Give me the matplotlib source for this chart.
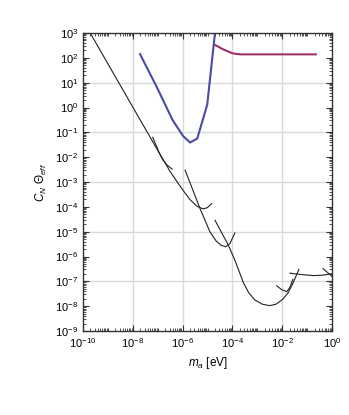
import numpy as np
import matplotlib
matplotlib.use("Agg")
import matplotlib.pyplot as plt
from matplotlib.ticker import LogLocator, NullFormatter

plt.rcParams['font.family'] = ['Liberation Sans', 'DejaVu Sans']
plt.rcParams['mathtext.fontset'] = 'custom'
plt.rcParams['mathtext.rm'] = 'Liberation Sans'
plt.rcParams['mathtext.it'] = 'Liberation Sans:italic'
plt.rcParams['mathtext.bf'] = 'Liberation Sans:bold'

# log10 values
blue_lx = [-7.71, -7.05, -6.40, -5.98, -5.70, -5.41, -5.01, -4.70]
blue_ly = [2.15, 0.85, -0.51, -1.15, -1.41, -1.25, 0.12, 3.0]

purple_lx = [-4.70, -4.37, -3.99, -3.69, -0.65]
purple_ly = [2.52, 2.34, 2.18, 2.14, 2.14]

main_lx = [-9.71, -8.57, -7.64, -6.91, -6.50, -6.20, -5.95, -5.70, -5.42, -5.18, -5.02, -4.83]
main_ly = [3.0, 1.01, -0.61, -1.88, -2.58, -3.02, -3.38, -3.71, -3.98, -4.08, -4.04, -3.87]

seg1_lx = [-7.20, -6.95, -6.80, -6.62, -6.42]
seg1_ly = [-1.20, -1.80, -2.10, -2.32, -2.48]

seg2_lx = [-5.90, -5.30, -4.90, -4.65, -4.45, -4.27, -4.10, -3.90]
seg2_ly = [-2.52, -4.07, -5.01, -5.38, -5.55, -5.61, -5.48, -5.05]

seg3_lx = [-4.70, -4.16, -3.90, -3.56, -3.35, -3.10, -2.80, -2.50, -2.25, -2.00, -1.76, -1.57, -1.33]
seg3_ly = [-4.54, -5.55, -6.15, -7.05, -7.45, -7.75, -7.92, -7.98, -7.92, -7.74, -7.46, -7.08, -6.52]

seg4_lx = [-2.22, -2.01, -1.82, -1.69, -1.57]
seg4_ly = [-7.18, -7.34, -7.42, -7.24, -6.92]

seg5_lx = [-1.69, -1.29, -0.75, -0.35, 0.0]
seg5_ly = [-6.67, -6.72, -6.77, -6.75, -6.69]

seg6_lx = [-0.36, -0.16, 0.04]
seg6_ly = [-6.49, -6.66, -6.84]

fig = plt.figure(figsize=(3.49, 4.15), dpi=100)
ax = fig.add_axes([83/349, 1-331/415, (332-83)/349, (331-33)/415])

ax.set_xscale('log')
ax.set_yscale('log')
ax.set_xlim(1e-10, 1)
ax.set_ylim(1e-9, 1e3)

for k in [-8, -6, -4, -2]:
    ax.axvline(10.0**k, color='#d9d9d9', lw=1.0, zorder=0)
for k in [1, -1, -3, -5, -7]:
    ax.axhline(10.0**k, color='#d9d9d9', lw=1.0, zorder=0)

def P(lx, ly):
    return 10.0**np.array(lx), 10.0**np.array(ly)

blk = dict(color='#222222', lw=0.8)
for lx, ly in [(main_lx, main_ly), (seg1_lx, seg1_ly), (seg2_lx, seg2_ly),
               (seg3_lx, seg3_ly), (seg4_lx, seg4_ly), (seg5_lx, seg5_ly),
               (seg6_lx, seg6_ly)]:
    ax.plot(*P(lx, ly), **blk)

ax.plot(*P(blue_lx, blue_ly), color='#4a4aa8', lw=1.5)
ax.plot(*P(purple_lx, purple_ly), color='#a0306c', lw=1.5)

ax.xaxis.set_major_locator(LogLocator(base=100, numticks=20))
ax.xaxis.set_minor_locator(LogLocator(base=10, subs=np.arange(1, 10), numticks=40))
ax.xaxis.set_minor_formatter(NullFormatter())
ax.yaxis.set_major_locator(LogLocator(base=10, numticks=20))
ax.yaxis.set_minor_locator(LogLocator(base=10, subs=np.arange(2, 10), numticks=40))
ax.yaxis.set_minor_formatter(NullFormatter())

ax.tick_params(which='both', direction='in', top=True, right=True, colors='#333333',
               labelcolor='black', labelsize=8)
ax.tick_params(which='major', length=4, width=0.8)
ax.tick_params(which='minor', length=2, width=0.6)
for s in ax.spines.values():
    s.set_color('#333333')
    s.set_linewidth(1.0)

ax.set_xlabel(r'$m_a$ [eV]', fontsize=8.5)
ax.set_ylabel(r'$C_N\ \Theta_{eff}$', fontsize=8.5)

fig.savefig('out.png', dpi=100)
